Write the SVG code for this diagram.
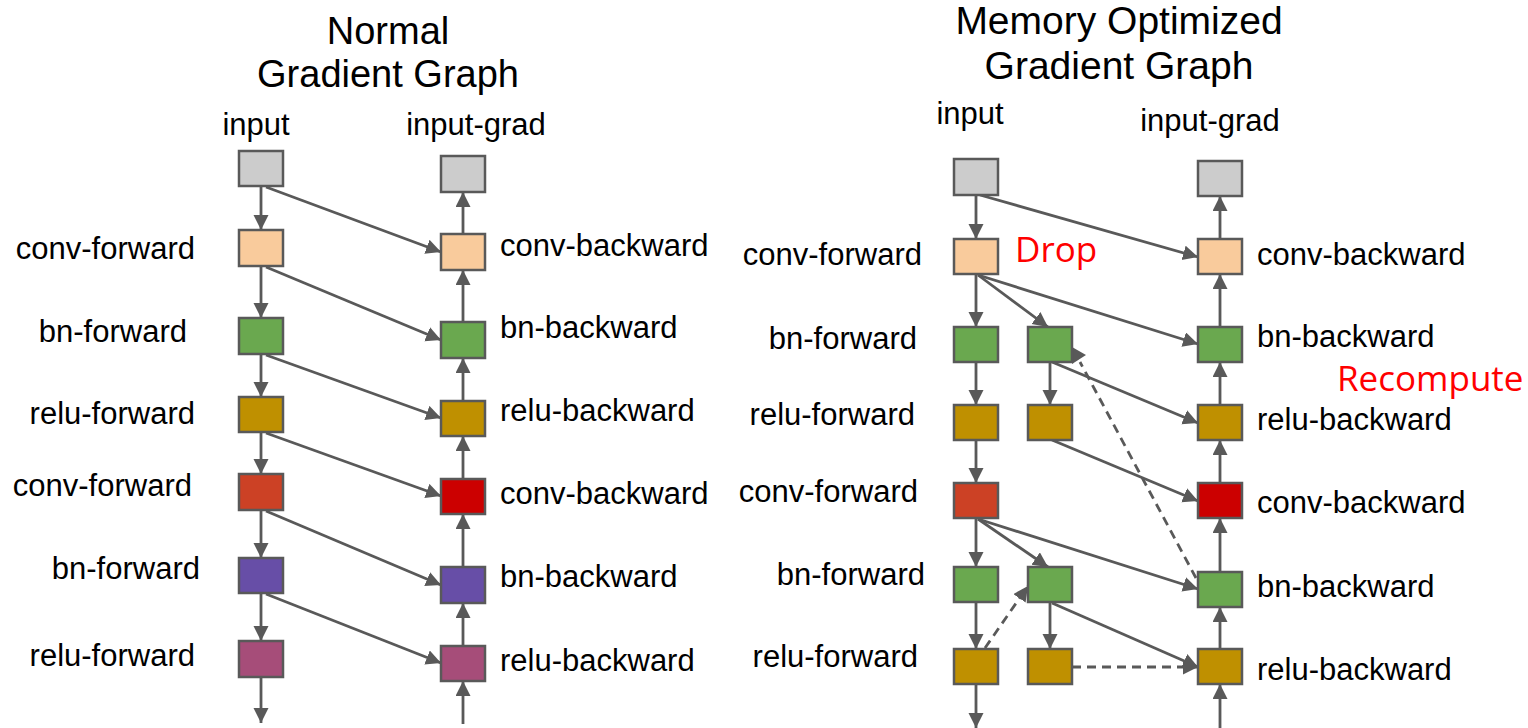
<svg xmlns="http://www.w3.org/2000/svg" width="1528" height="728" viewBox="0 0 1528 728">
<style>
text{font-family:"Liberation Sans",Arial,sans-serif;fill:#000}
.t{font-size:38px;text-anchor:middle}
.t2{font-size:39px;text-anchor:middle}
.l{font-size:31px}
.e{text-anchor:end}
.m{text-anchor:middle}
.red{font-family:"Open Sans","Noto Sans",sans-serif;fill:#ff0000;font-size:35px}
rect{stroke:#595959;stroke-width:2.5}
.gray{fill:#cccccc}.peach{fill:#f9cb9c}.green{fill:#6aa84f}.gold{fill:#bf9000}
.orred{fill:#cc4125}.red2{fill:#cc0000}.purple{fill:#674ea7}.mag{fill:#a64d79}
#connectors line{stroke:#595959;stroke-width:2.8;fill:none;marker-end:url(#arr)}
#connectors .d{stroke-dasharray:9 6}
</style>
<defs>
<marker id="arr" markerUnits="userSpaceOnUse" markerWidth="17" markerHeight="17" refX="15" refY="7.5" orient="auto">
<path d="M0,0 L15,7.5 L0,15 z" fill="#595959"/>
</marker>
</defs>
<rect x="0" y="0" width="1528" height="728" fill="#ffffff" style="stroke:none"/>

<g id="titles">
<text class="t" x="388" y="44">Normal</text>
<text class="t" x="388" y="87">Gradient Graph</text>
<text class="t2" x="1119" y="34">Memory Optimized</text>
<text class="t2" x="1119" y="79">Gradient Graph</text>
</g>

<g id="connectors">
<line x1="261" y1="186" x2="261" y2="230"/>
<line x1="261" y1="266" x2="261" y2="318"/>
<line x1="261" y1="354" x2="261" y2="397"/>
<line x1="261" y1="432" x2="261" y2="474"/>
<line x1="261" y1="510" x2="261" y2="558"/>
<line x1="261" y1="593" x2="261" y2="641"/>
<line x1="261" y1="677" x2="261" y2="723"/>
<line x1="463" y1="724" x2="463" y2="681"/>
<line x1="463" y1="646" x2="463" y2="603"/>
<line x1="463" y1="567" x2="463" y2="514"/>
<line x1="463" y1="479" x2="463" y2="436"/>
<line x1="463" y1="401" x2="463" y2="358"/>
<line x1="463" y1="322" x2="463" y2="270"/>
<line x1="463" y1="234" x2="463" y2="192"/>
<line x1="266" y1="187" x2="441" y2="252"/>
<line x1="266" y1="267" x2="441" y2="340"/>
<line x1="266" y1="355" x2="441" y2="418"/>
<line x1="266" y1="433" x2="441" y2="496"/>
<line x1="266" y1="511" x2="441" y2="585"/>
<line x1="266" y1="594" x2="441" y2="663"/>

<line x1="976" y1="195" x2="976" y2="239"/>
<line x1="976" y1="274" x2="976" y2="327"/>
<line x1="976" y1="362" x2="976" y2="405"/>
<line x1="976" y1="440" x2="976" y2="483"/>
<line x1="976" y1="518" x2="976" y2="567"/>
<line x1="976" y1="602" x2="976" y2="649"/>
<line x1="976" y1="684" x2="976" y2="728"/>
<line x1="1050" y1="362" x2="1050" y2="405"/>
<line x1="1050" y1="602" x2="1050" y2="649"/>
<line x1="1220" y1="729" x2="1220" y2="684"/>
<line x1="1220" y1="649" x2="1220" y2="607"/>
<line x1="1220" y1="572" x2="1220" y2="518"/>
<line x1="1220" y1="483" x2="1220" y2="440"/>
<line x1="1220" y1="405" x2="1220" y2="362"/>
<line x1="1220" y1="327" x2="1220" y2="274"/>
<line x1="1220" y1="239" x2="1220" y2="196"/>
<line x1="980" y1="195" x2="1198" y2="257"/>
<line x1="978" y1="275" x2="1048" y2="327"/>
<line x1="978" y1="275" x2="1198" y2="344"/>
<line x1="1052" y1="362" x2="1198" y2="423"/>
<line x1="1052" y1="440" x2="1198" y2="501"/>
<line x1="978" y1="519" x2="1048" y2="567"/>
<line x1="978" y1="519" x2="1198" y2="589"/>
<line x1="1052" y1="603" x2="1198" y2="667"/>
<line class="d" x1="1072" y1="667" x2="1198" y2="667"/>
<line class="d" x1="985" y1="648" x2="1028" y2="586"/>
<line class="d" x1="1196" y1="578" x2="1080" y2="362" style="marker-end:none"/>
<polygon points="1072,347 1086,355 1072,364" fill="#595959"/>
</g>

<g id="left-graph">
<g id="n-input"><rect class="gray" x="239" y="151" width="44" height="35"/><text class="l m" x="256" y="135">input</text></g>
<g id="n-conv-f1"><rect class="peach" x="239" y="230" width="44" height="36"/><text class="l e" x="195" y="259">conv-forward</text></g>
<g id="n-bn-f1"><rect class="green" x="239" y="318" width="44" height="36"/><text class="l e" x="187" y="342">bn-forward</text></g>
<g id="n-relu-f1"><rect class="gold" x="239" y="397" width="44" height="35"/><text class="l e" x="195" y="424">relu-forward</text></g>
<g id="n-conv-f2"><rect class="orred" x="239" y="474" width="44" height="36"/><text class="l e" x="192" y="496">conv-forward</text></g>
<g id="n-bn-f2"><rect class="purple" x="239" y="558" width="44" height="35"/><text class="l e" x="200" y="579">bn-forward</text></g>
<g id="n-relu-f2"><rect class="mag" x="239" y="641" width="44" height="36"/><text class="l e" x="195" y="666">relu-forward</text></g>

<g id="n-input-grad"><rect class="gray" x="441" y="156" width="44" height="36"/><text class="l m" x="476" y="135">input-grad</text></g>
<g id="n-conv-b1"><rect class="peach" x="441" y="234" width="44" height="36"/><text class="l" x="500" y="256">conv-backward</text></g>
<g id="n-bn-b1"><rect class="green" x="441" y="322" width="44" height="36"/><text class="l" x="500" y="338">bn-backward</text></g>
<g id="n-relu-b1"><rect class="gold" x="441" y="401" width="44" height="35"/><text class="l" x="500" y="421">relu-backward</text></g>
<g id="n-conv-b2"><rect class="red2" x="441" y="479" width="44" height="35"/><text class="l" x="500" y="504">conv-backward</text></g>
<g id="n-bn-b2"><rect class="purple" x="441" y="567" width="44" height="36"/><text class="l" x="500" y="587">bn-backward</text></g>
<g id="n-relu-b2"><rect class="mag" x="441" y="646" width="44" height="35"/><text class="l" x="500" y="671">relu-backward</text></g>
</g>

<g id="right-graph">
<g id="m-input"><rect class="gray" x="954" y="159" width="44" height="36"/><text class="l m" x="970" y="124">input</text></g>
<g id="m-conv-f1"><rect class="peach" x="954" y="239" width="44" height="35"/><text class="l e" x="922" y="265">conv-forward</text></g>
<g id="m-bn-f1"><rect class="green" x="954" y="327" width="44" height="35"/><text class="l e" x="917" y="349">bn-forward</text></g>
<g id="m-relu-f1"><rect class="gold" x="954" y="405" width="44" height="35"/><text class="l e" x="915" y="425">relu-forward</text></g>
<g id="m-conv-f2"><rect class="orred" x="954" y="483" width="44" height="35"/><text class="l e" x="918" y="502">conv-forward</text></g>
<g id="m-bn-f2"><rect class="green" x="954" y="567" width="44" height="35"/><text class="l e" x="925" y="585">bn-forward</text></g>
<g id="m-relu-f2"><rect class="gold" x="954" y="649" width="44" height="35"/><text class="l e" x="918" y="667">relu-forward</text></g>

<g id="m-bn-rc1"><rect class="green" x="1028" y="327" width="44" height="35"/></g>
<g id="m-relu-rc1"><rect class="gold" x="1028" y="405" width="44" height="35"/></g>
<g id="m-bn-rc2"><rect class="green" x="1028" y="567" width="44" height="35"/></g>
<g id="m-relu-rc2"><rect class="gold" x="1028" y="649" width="44" height="35"/></g>

<g id="m-input-grad"><rect class="gray" x="1198" y="161" width="44" height="35"/><text class="l m" x="1210" y="131">input-grad</text></g>
<g id="m-conv-b1"><rect class="peach" x="1198" y="239" width="44" height="35"/><text class="l" x="1257" y="265">conv-backward</text></g>
<g id="m-bn-b1"><rect class="green" x="1198" y="327" width="44" height="35"/><text class="l" x="1257" y="347">bn-backward</text></g>
<g id="m-relu-b1"><rect class="gold" x="1198" y="405" width="44" height="35"/><text class="l" x="1257" y="430">relu-backward</text></g>
<g id="m-conv-b2"><rect class="red2" x="1198" y="483" width="44" height="35"/><text class="l" x="1257" y="513">conv-backward</text></g>
<g id="m-bn-b2"><rect class="green" x="1198" y="572" width="44" height="35"/><text class="l" x="1257" y="597">bn-backward</text></g>
<g id="m-relu-b2"><rect class="gold" x="1198" y="649" width="44" height="35"/><text class="l" x="1257" y="680">relu-backward</text></g>

<text class="red" x="1015" y="262">Drop</text>
<text class="red" x="1337" y="391">Recompute</text>
</g>
</svg>
